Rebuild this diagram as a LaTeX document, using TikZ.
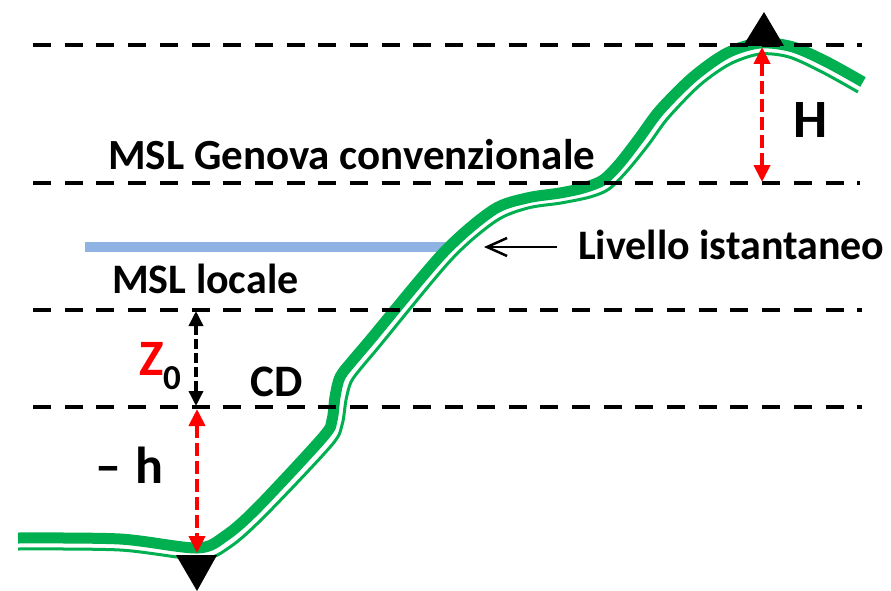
\documentclass[tikz,border=0pt]{standalone}
\usepackage{fontspec}
\setmainfont{Carlito}
\usetikzlibrary{arrows.meta}

\definecolor{seagreen}{RGB}{0,176,80}
\definecolor{localblue}{RGB}{143,180,227}

\begin{document}
\begin{tikzpicture}[x=1pt, y=-1pt,
  level/.style={line width=4pt, dash pattern=on 18pt off 13.7pt},
  lbl/.style={anchor=base west, inner sep=0pt, font=\fontsize{43}{50}\selectfont\bfseries},
  redgap/.style={red, line width=4pt, dash pattern=on 13pt off 5pt,
    {Triangle[length=17pt,width=16pt]}-{Triangle[length=17pt,width=16pt]}},
  blackgap/.style={black, line width=3.5pt, dash pattern=on 10pt off 4pt,
    {Triangle[length=15pt,width=14pt]}-{Triangle[length=15pt,width=14pt]}}]
\useasboundingbox (0,0) rectangle (891,591);

% MSL locale (instantaneous level)
\draw[localblue, line width=10pt] (85,247) -- (447,247);

% Seabed / coast profile
\draw[seagreen, line width=11pt] plot[smooth] coordinates {
  (18,538) (120,539) (197,548) (225,536) (257,508) (323,437)
  (332,420) (335,397) (340,377) (353,360) (370,340) (443,253)
  (493,210) (527,198) (560,193) (583,188) (603,180) (620,163)
  (640,137) (660,110) (693,77) (727,53) (760,43) (793,47) (827,62) (863,82)};
\draw[seagreen, line width=3pt] plot[smooth] coordinates {
  (18,549) (120,550) (200,559) (230,547) (265,516) (331,446)
  (342,425) (346,400) (351,382) (362,367) (378,348) (451,260)
  (496,221) (528,208) (561,203) (590,197) (609,189) (628,170)
  (649,144) (668,118) (700,85) (730,64) (760,54) (789,57) (822,72) (858,92)};

% Reference levels
\draw[level] (33,45) -- (862,45);
\draw[level] (33,183) -- (860,183);
\draw[level] (33,310) -- (862,310);
\draw[level] (33,407) -- (862,407);

% Tide gauge marks
\fill (743,46) -- (784,46) -- (764,12) -- cycle;
\fill (176,555) -- (217,555) -- (197,591) -- cycle;

% Distances
\coordinate (peak) at (762,47);
\coordinate (genovalev) at (762,182);
\coordinate (locallev) at (196,311);
\coordinate (cdlev) at (196,406);
\coordinate (cdlow) at (197,409);
\coordinate (bottom) at (197,553);
\draw[redgap] (peak) -- (genovalev);
\draw[blackgap] (locallev) -- (cdlev);
\draw[redgap] (cdlow) -- (bottom);

% Labels
\node[lbl] (genova) at (108,169) {MSL Genova convenzionale};
\node[lbl, font=\fontsize{42}{50}\selectfont\bfseries] (locale) at (112,293) {MSL locale};
\node[lbl, font=\fontsize{42}{50}\selectfont\bfseries] (livello) at (578,259) {Livello istantaneo};
\coordinate (shore) at (484,247);
\draw[line width=2.5pt, -{Straight Barb[length=20pt,width=18pt]}] (livello.west |- shore) ++(-21,0) -- (shore);
\node[lbl, font=\fontsize{54}{60}\selectfont\bfseries] (hlab) at (793,137) {H};
\node[lbl, font=\fontsize{45}{50}\selectfont\bfseries] (cd) at (250,396) {CD};
\node[lbl, font=\fontsize{51}{56}\selectfont\bfseries, text=red] (zeta) at (139,375) {Z};
\node[lbl, font=\fontsize{35}{40}\selectfont\bfseries] (zsub) at (163,389) {0};
\node[lbl, font=\fontsize{52}{58}\selectfont\bfseries] (hdepth) at (95,483) {– \kern3pt h};
\end{tikzpicture}
\end{document}
